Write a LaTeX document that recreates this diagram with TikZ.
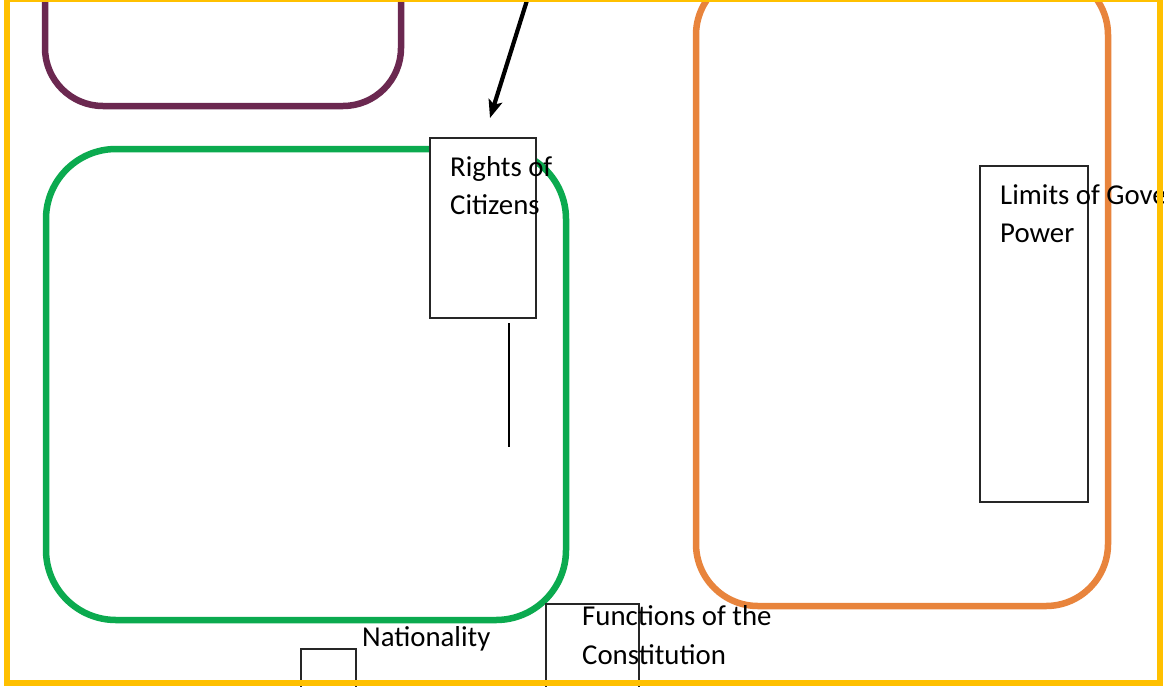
\documentclass[tikz,border=0pt]{standalone}
\usepackage{fontspec}
\setmainfont{Carlito}
\usetikzlibrary{arrows.meta}
\definecolor{frameyellow}{HTML}{FFC000}
\definecolor{plum}{HTML}{6B2850}
\definecolor{grn}{HTML}{0BAA4F}
\definecolor{orng}{HTML}{E8843C}
\tikzset{
  bigbox/.style={draw, rectangle, inner sep=0pt, line width=6.5pt},
  thinbox/.style={draw=black!85, fill=white, rectangle, inner sep=0pt, line width=1.2pt},
  label/.style={anchor=base west, inner sep=0pt, font=\fontsize{28.8}{34}\selectfont},
  conn/.style={draw=black, line width=4.2pt},
}
\begin{document}
\begin{tikzpicture}[x=1pt,y=-1pt]
\useasboundingbox (0,0) rectangle (1164,686);
\clip (0,0) rectangle (1164,686);
\fill[white] (0,0) rectangle (1164,686);
% large rounded boxes
\node[bigbox, draw=plum, rounded corners=58pt, minimum width=356pt, minimum height=166pt] (purple) at (223,23) {};
\node[bigbox, draw=grn, rounded corners=70pt, minimum width=520pt, minimum height=471pt] (green) at (306,384.5) {};
\node[bigbox, draw=orng, rounded corners=62pt, minimum width=412pt, minimum height=633pt] (orange) at (902,289.5) {};
% small boxes
\node[thinbox, minimum width=106pt, minimum height=180pt] (rights) at (483,228) {};
\node[thinbox, minimum width=108pt, minimum height=336pt] (limits) at (1034,334) {};
\node[thinbox, minimum width=93pt, minimum height=96pt] (functions) at (592.5,652) {};
\node[thinbox, line width=1.8pt, minimum width=55pt, minimum height=51pt] (natbox) at (328.5,674.5) {};
% texts
\node[label] (t1) at (450,176) {Rights of};
\node[label] (t2) at (450,214) {Citizens};
\node[label] (t3) at (1000,204) {Limits of Government};
\node[label] (t4) at (1000,242) {Power};
\node[label] (t5) at (582,625) {Functions of the};
\node[label] (t6) at (582,664) {Constitution};
\node[label] (t7) at (362,646) {Nationality};
% connectors
\coordinate (arrowstart) at (529,-6);
\coordinate (arrowtip) at (490,118);
\draw[conn, -{Stealth[length=18pt,width=14pt,inset=4pt]}] (arrowstart) -- (arrowtip);
\coordinate (lineA) at (509,323);
\coordinate (lineB) at (509,447);
\draw[draw=black, line width=2.5pt] (lineA) -- (lineB);
% outer frame
\draw[frameyellow, line width=6pt] (7,-1) rectangle (1160,683);
\end{tikzpicture}
\end{document}
